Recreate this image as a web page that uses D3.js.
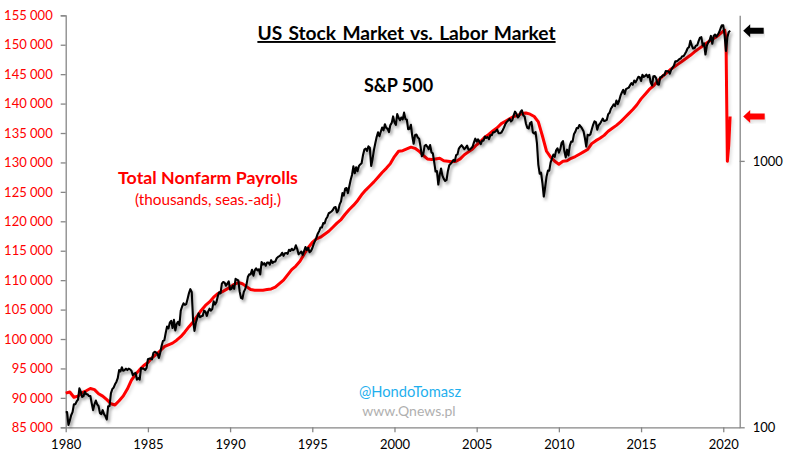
<!DOCTYPE html>
<html><head><meta charset="utf-8">
<script src="https://cdn.jsdelivr.net/npm/d3@7"></script>
<style>
html,body{margin:0;padding:0;background:#fff}
svg{display:block}
text{font-family:Lato,"Open Sans",sans-serif}
</style></head><body><svg id="c" width="792" height="463"></svg>
<script>
const title = "US Stock Market vs. Labor Market";
const xTicks = [1980,1985,1990,1995,2000,2005,2010,2015,2020];
const leftTicks = [85000,90000,95000,100000,105000,110000,115000,120000,125000,130000,135000,140000,145000,150000,155000];
const rightTicks = [100,1000];
// S&P 500, monthly from Jan 1980
const sp500 = [
114,114,102,106,111,114,122,122,125,127,140,136,
130,131,136,133,133,131,131,123,116,122,126,122,
120,113,112,116,112,110,107,120,120,134,139,141,
145,148,153,164,162,168,163,164,166,164,166,165,
163,157,159,160,151,153,151,167,166,166,164,167,
180,181,181,180,190,192,191,189,182,190,202,211,
212,226,239,235,247,251,236,253,231,244,249,242,
274,284,292,288,290,304,319,330,322,252,230,247,
257,268,259,261,262,274,272,262,272,279,274,278,
297,289,295,310,321,318,346,351,349,340,346,353,
329,331,340,331,361,358,356,323,306,304,322,330,
344,367,375,375,390,371,388,395,388,392,375,417,
408,413,404,415,415,408,424,414,418,419,431,436,
439,443,452,440,450,451,448,464,459,468,462,466,
482,467,446,451,457,444,458,475,463,472,454,459,
470,487,501,515,533,545,562,562,584,582,605,616,
636,640,646,654,669,671,640,652,687,705,757,741,
786,791,757,801,848,885,954,899,947,915,955,970,
980,1049,1102,1112,1091,1134,1120,957,1017,1099,1164,1229,
1280,1238,1286,1335,1302,1373,1329,1320,1283,1363,1389,1469,
1394,1366,1499,1452,1421,1455,1431,1518,1437,1429,1315,1320,
1366,1240,1160,1249,1256,1224,1211,1134,1041,1060,1139,1148,
1130,1107,1147,1077,1067,990,912,916,815,886,936,880,
856,841,848,917,964,975,990,1008,996,1051,1058,1112,
1131,1145,1126,1107,1121,1141,1102,1104,1115,1130,1174,1212,
1181,1204,1181,1157,1192,1191,1234,1220,1229,1207,1249,1248,
1280,1281,1295,1311,1270,1270,1277,1304,1336,1378,1401,1418,
1438,1407,1421,1482,1531,1503,1455,1474,1527,1549,1481,1468,
1379,1331,1323,1386,1400,1280,1267,1283,1165,969,896,903,
826,735,798,873,919,919,987,1021,1057,1036,1096,1115,
1074,1104,1169,1187,1089,1031,1102,1049,1141,1183,1181,1258,
1286,1327,1326,1364,1345,1321,1292,1219,1131,1253,1247,1258,
1312,1366,1408,1398,1310,1362,1379,1407,1441,1412,1416,1426,
1498,1515,1569,1598,1631,1606,1686,1633,1682,1757,1806,1848,
1783,1859,1872,1884,1924,1960,1931,2003,1972,2018,2068,2059,
1995,2105,2068,2086,2107,2063,2104,1972,1920,2079,2080,2044,
1940,1932,2060,2065,2097,2099,2174,2171,2168,2126,2199,2239,
2279,2364,2363,2384,2412,2423,2470,2472,2519,2575,2648,2674,
2824,2714,2641,2648,2705,2718,2816,2902,2914,2712,2760,2507,
2704,2784,2834,2946,2752,2942,2980,2926,2977,3038,3141,3231,
3226,2954,2585,2912,3044,3083];
// Total nonfarm payrolls, quarterly from Q1 1980 through Q4 2019
const payrollsQuarterly = [
90800,91000,90100,90300, 90900,91200,91600,91400, 90700,90300,89700,89000,
88800,89500,90300,91500, 93000,94000,94800,95500, 96000,96800,97400,98000,
98700,99000,99300,99800, 100400,101200,102100,102900, 103900,104900,105700,106300,
107100,107700,108000,108400, 108800,109300,109600,109400, 108900,108400,108300,108300,
108300,108400,108500,108800, 109400,110000,110900,111800, 112400,113200,114400,115500,
116400,117000,117300,117800, 118300,119000,119700,120300, 121200,122000,122700,123500,
124500,125300,126000,126700, 127500,128300,129000,129800, 131000,131900,132000,132300,
132600,132400,131900,131200, 130600,130500,130600,130700, 130300,130200,130100,130200,
130600,131300,131800,132300, 133000,133600,134300,134800, 135400,135900,136600,137000,
137400,137800,138000,138300, 138400,138200,137800,136900, 134500,131900,130900,130200,
129700,130200,130300,130700, 131000,131400,131800,132200, 133200,133700,134100,134600,
135300,135800,136300,136900, 137600,138300,139000,139800, 140800,141600,142400,143000,
143800,144500,145100,145700, 146200,146700,147200,147700, 148200,148800,149300,149800,
150300,150800,151200,151700];
// Payrolls, monthly Jan to Jun 2020
const payrolls2020 = [152300,152500,151100,130200,132900,137800];

const width=792,height=463,L=65.7,R=739.7,T=15.3,B=427.3;
const svg=d3.select("#c");
const defs=svg.append("defs");
const mkShadow=(id,op)=>defs.append("filter").attr("id",id).attr("x","-5%").attr("y","-5%").attr("width","110%").attr("height","110%")
  .append("feDropShadow").attr("dx",1.8).attr("dy",2.5).attr("stdDeviation",1.6).attr("flood-color","#000").attr("flood-opacity",op);
mkShadow("sh",0.38);
mkShadow("shLight",0.12);

const x=d3.scaleLinear().domain([1980,2021]).range([L,R]);
const yL=d3.scaleLinear().domain([85000,155000]).range([B,T]);
const yR=d3.scaleLog().domain([100,3520]).range([B,T]);

const spData=sp500.map((v,i)=>[1980+i/12,v]);
const payData=payrollsQuarterly.map((v,i)=>[1980+i/4,v]).concat(payrolls2020.map((v,i)=>[2020+i/12,v]));

const axisColor="#868686";
function styleAxis(g,color,size){
  g.selectAll(".domain,.tick line").attr("stroke",axisColor).attr("stroke-width",1.3);
  g.selectAll("text").attr("fill",color).attr("font-size",size);
}
const fmt=d=>d3.format(",")(d).replace(","," ");
svg.append("g").attr("transform",`translate(${L},0)`)
  .call(d3.axisLeft(yL).tickValues(leftTicks).tickFormat(fmt).tickSize(5).tickSizeOuter(5).tickPadding(8))
  .call(g=>styleAxis(g,"#ff0000",13));
svg.append("g").attr("transform",`translate(0,${B})`)
  .call(d3.axisBottom(x).tickValues(xTicks).tickFormat(d3.format("d")).tickSize(5).tickSizeOuter(0).tickPadding(7))
  .call(g=>styleAxis(g,"#000",13));
svg.append("g").attr("transform",`translate(${R},0)`)
  .call(d3.axisRight(yR).tickValues(rightTicks).tickFormat(d3.format("d")).tickSize(5).tickSizeOuter(0).tickPadding(8))
  .call(g=>styleAxis(g,"#000",13));

const payLine=d3.line().x(d=>x(d[0])).y(d=>yL(d[1]));
const spLine=d3.line().x(d=>x(d[0])).y(d=>yR(d[1]));
const lines=svg.append("g").attr("fill","none").attr("stroke-linejoin","round");
lines.append("path").datum(payData).attr("d",payLine).attr("stroke","#ff0000").attr("stroke-width",3).attr("filter","url(#shLight)");
lines.append("path").datum(spData).attr("d",spLine).attr("stroke","#000").attr("stroke-width",2.1).attr("filter","url(#sh)");

// end-value arrows
const arrow=(yy,color)=>svg.append("path")
  .attr("d",`M${R+3.5},${yy} l7,-6.5 v3.5 h${color==="#000"?13.5:14.5} v6 h-${color==="#000"?13.5:14.5} v3.5 z`)
  .attr("fill",color).attr("filter","url(#shLight)");
arrow(yR(sp500[sp500.length-1]),"#000");
arrow(yL(payrolls2020[payrolls2020.length-1]),"#ff0000");

const txt=(s,xx,yy,size,color,weight)=>svg.append("text").attr("x",xx).attr("y",yy).attr("text-anchor","middle")
  .attr("font-size",size).attr("fill",color).attr("font-weight",weight||400).text(s);
txt(title,406.5,40,19.2,"#000",700).attr("text-decoration","underline").attr("word-spacing",1.6);
txt("S&P 500",398.5,92,18,"#000",700);
txt("Total Nonfarm Payrolls",208,184,17.8,"#ff0000",700);
txt("(thousands, seas.-adj.)",208,205,15.3,"#ff0000",400);
txt("@HondoTomasz",410,397,14.7,"#1fb0ee",400);
txt("www.Qnews.pl",409,416,14,"#b0b0b0",400);
</script></body></html>
